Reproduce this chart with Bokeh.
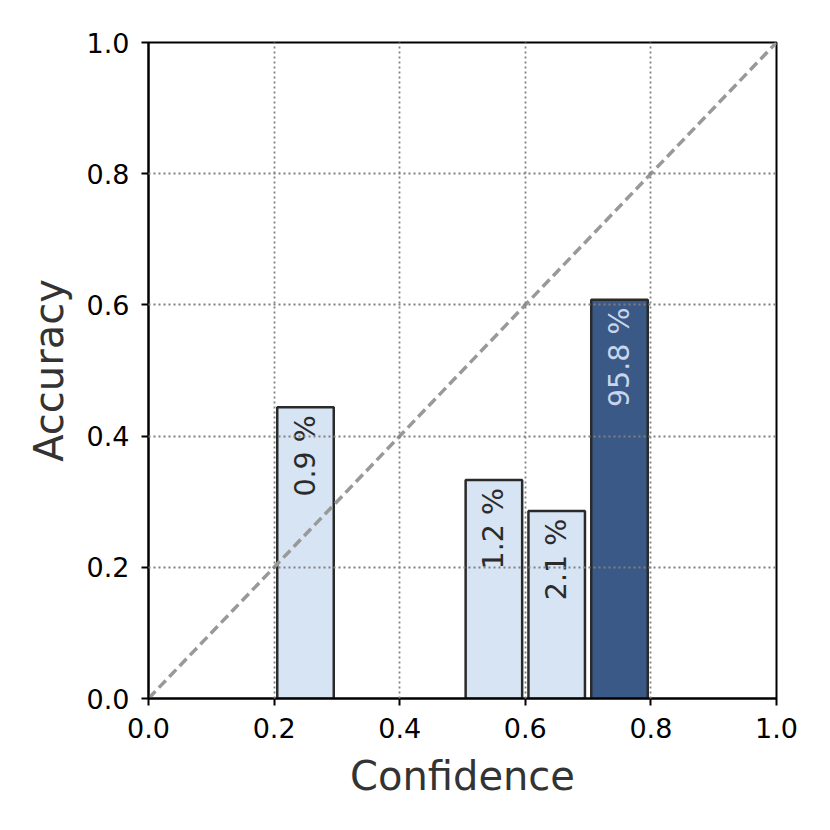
import math
from bokeh.plotting import figure
from bokeh.models import Range1d, FixedTicker, PrintfTickFormatter, ColumnDataSource
from bokeh.core.properties import value
from bokeh.embed import file_html
from bokeh.resources import INLINE

# data
bin_centers = [0.25, 0.55, 0.65, 0.75]
accuracy = [0.444, 0.333, 0.286, 0.608]
share_pct = [0.9, 1.2, 2.1, 95.8]
bar_colors = ["#d6e4f4", "#d6e4f4", "#d6e4f4", "#3a5987"]
label_colors = ["#2b2b2b", "#2b2b2b", "#2b2b2b", "#c8d5ea"]
diag = [0.0, 1.0]
ticks = [0.0, 0.2, 0.4, 0.6, 0.8, 1.0]

labels = [f"{s:.1f} %" for s in share_pct]
label_y = [a - 0.012 for a in accuracy]

src = ColumnDataSource(dict(x=bin_centers, top=accuracy, fill=bar_colors,
                            lab=labels, ly=label_y, lc=label_colors))

FONT = "DejaVu Sans"

p = figure(width=822, height=822, output_backend="svg", toolbar_location=None,
           x_range=Range1d(0, 1), y_range=Range1d(0, 1),
           min_border_left=148, min_border_right=46, min_border_top=42, min_border_bottom=124)

p.vbar(x="x", top="top", bottom=0, width=0.09, source=src,
       fill_color="fill", line_color="#2a2a2a", line_width=2.5)

p.line(diag, diag, line_color="#999999", line_width=3.5, line_dash="10 5")

p.text(x="x", y="ly", text="lab", source=src, angle=math.pi / 2,
       text_align="right", text_baseline="middle",
       text_font=value(FONT), text_font_size="28.5px", text_color="lc")

for ax in (p.xaxis, p.yaxis):
    ax.ticker = FixedTicker(ticks=ticks)
    ax.formatter = PrintfTickFormatter(format="%.1f")
    ax.major_label_text_font = FONT
    ax.major_label_text_font_size = "27px"
    ax.major_label_text_color = "black"
    ax.axis_label_text_font = FONT
    ax.axis_label_text_font_size = "40px"
    ax.axis_label_text_font_style = "normal"
    ax.axis_label_text_color = "#333333"
    ax.axis_line_color = "black"
    ax.axis_line_width = 2
    ax.major_tick_line_color = "black"
    ax.major_tick_line_width = 2
    ax.major_tick_out = 7
    ax.major_tick_in = 0
    ax.minor_tick_line_color = None

p.xaxis.axis_label = "Confidence"
p.yaxis.axis_label = "Accuracy"
p.xaxis.major_label_standoff = 12
p.yaxis.major_label_standoff = 12
p.xaxis.axis_label_standoff = 12
p.yaxis.axis_label_standoff = 12

for g in (p.xgrid, p.ygrid):
    g.ticker = FixedTicker(ticks=ticks)
    g.grid_line_color = "#808080"
    g.grid_line_width = 1.8
    g.grid_line_dash = "2 3"
    g.level = "overlay"

p.outline_line_color = "black"
p.outline_line_width = 2
p.outline_line_alpha = 1
p.background_fill_color = "white"
p.border_fill_color = "white"

open("out.html", "w").write(file_html(p, INLINE))
